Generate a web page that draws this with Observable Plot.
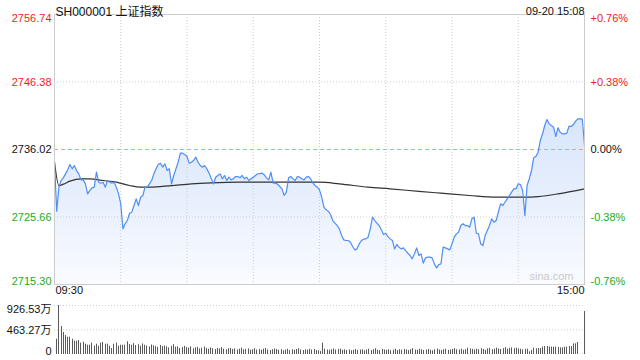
<!DOCTYPE html>
<html><head><meta charset="utf-8">
<script src="https://cdn.jsdelivr.net/npm/d3@7"></script>
<script src="https://cdn.jsdelivr.net/npm/@observablehq/plot@0.6"></script>
<style>
body{margin:0;background:#fff;}
#wrap{position:relative;width:640px;height:360px;overflow:hidden;}
#main{position:absolute;left:0;top:0;}
#vol{position:absolute;left:0;top:296px;}
</style></head><body>
<div id="wrap"><div id="main"></div><div id="vol"></div></div>
<script>
const title = "SH000001 上证指数";
const stamp = "09-20 15:08";
const watermark = "sina.com";
const timeLabels = ["09:30", "15:00"];
const prevClose = 2736.02;
const priceTicks = [2756.74, 2746.38, 2736.02, 2725.66, 2715.30];
const pctLabels = ["+0.76%", "+0.38%", "0.00%", "-0.38%", "-0.76%"];
const gridMinutes = [30, 60, 90, 120, 150, 180, 210];
const volTicks = [926.53, 463.27, 0];
const volLabels = ["926.53万", "463.27万", "0"];

// price per trading minute (0 = 09:30, 240 = 15:00)
const prices = [
2734.07,2726.55,2730.24,2731.26,2731.67,2732.28,2732.90,2733.72,2733.05,2733.56,
2732.79,2732.28,2731.36,2731.36,2730.75,2729.21,2729.72,2730.13,2730.24,2732.54,
2731.00,2730.85,2731.00,2730.24,2731.26,2731.00,2730.85,2731.00,2730.24,2729.21,
2727.68,2723.84,2724.61,2725.12,2726.24,2726.40,2727.42,2728.45,2727.42,2728.70,
2728.96,2730.24,2730.24,2730.75,2731.26,2732.28,2733.05,2733.72,2733.92,2733.31,
2733.82,2732.79,2733.05,2730.75,2732.03,2733.05,2734.07,2735.46,2735.46,2735.25,
2734.94,2733.92,2734.07,2734.33,2734.84,2734.07,2733.56,2733.31,2733.56,2733.05,
2732.39,2731.52,2730.75,2731.77,2732.03,2732.28,2731.52,2732.03,2731.26,2731.77,
2731.36,2731.52,2731.87,2731.87,2731.67,2732.03,2731.52,2731.77,2731.26,2731.52,
2731.77,2732.03,2732.28,2732.33,2732.39,2732.13,2731.67,2731.36,2732.54,2730.85,
2730.85,2730.70,2730.34,2729.98,2728.96,2729.47,2731.67,2731.87,2731.52,2731.26,
2731.87,2731.77,2731.52,2731.36,2731.77,2731.87,2731.52,2730.85,2730.49,2730.24,
2729.83,2728.70,2727.17,2726.76,2726.55,2726.04,2725.12,2724.71,2724.35,2723.84,
2722.82,2722.15,2722.05,2722.05,2721.79,2721.13,2720.62,2720.77,2721.54,2722.05,
2722.25,2722.30,2722.56,2723.84,2725.63,2725.12,2724.71,2724.35,2723.69,2722.97,
2723.17,2722.66,2722.30,2722.05,2720.77,2721.44,2721.03,2720.77,2720.92,2720.51,
2720.10,2719.75,2719.24,2720.00,2720.92,2719.75,2720.00,2718.57,2719.39,2719.49,
2719.49,2719.39,2718.47,2717.85,2718.36,2718.47,2721.03,2720.92,2720.77,2720.62,
2721.54,2722.56,2723.07,2723.33,2724.35,2724.61,2724.35,2724.35,2724.10,2725.38,
2725.63,2723.17,2723.07,2721.54,2721.28,2722.82,2723.58,2724.35,2725.38,2724.86,
2725.12,2726.40,2727.68,2727.42,2727.93,2728.45,2728.96,2729.47,2729.98,2729.98,
2730.75,2730.65,2729.72,2725.89,2730.49,2731.52,2732.79,2734.74,2734.94,2735.61,
2737.40,2738.42,2739.70,2740.62,2739.96,2739.70,2739.45,2738.01,2739.34,2738.68,
2738.42,2738.42,2738.53,2739.60,2739.55,2739.86,2740.37,2740.73,2740.73,2740.67,
2736.63];

// average price line, read at these minutes
const avgMinutes = [0,2,4,7,12,16,22,28,34,39,43,53,62,71,84,100,120,129,142,152,165,175,188,200,213,219,228,240];
const avgPrices = [2734.07,2730.49,2730.70,2731.16,2731.52,2731.52,2731.26,2731.00,2730.49,2730.24,2730.24,2730.49,2730.75,2730.90,2731.00,2731.00,2731.00,2730.75,2730.24,2729.98,2729.60,2729.32,2728.96,2728.70,2728.70,2728.80,2729.21,2729.98];

// volume per minute (万)
const volumes = [
289,926.53,529,416,359,327,327,289,251,251,
265,214,232,195,176,176,214,157,195,157,
214,227,195,195,157,113,195,214,157,176,
176,176,240,190,175,205,170,185,155,200,
175,160,145,180,165,150,135,170,150,160,
145,125,155,185,140,145,115,130,155,135,
120,145,110,125,135,105,120,140,115,100,
125,110,95,115,105,130,100,90,110,115,
95,105,85,100,120,90,95,105,80,90,
110,85,95,80,100,115,85,75,90,105,
95,80,90,70,85,100,75,90,80,95,
110,85,75,90,80,100,85,95,75,70,
55,214,100,85,80,90,105,85,95,100,
80,90,75,85,70,80,95,75,85,90,
70,85,100,75,90,110,80,75,95,85,
80,90,70,85,100,75,90,80,95,85,
75,90,110,85,80,100,90,75,85,95,
80,70,90,105,85,75,90,100,80,85,
95,110,90,85,100,80,90,120,105,95,
85,100,90,110,95,80,105,115,90,100,
120,105,95,110,130,100,115,125,110,120,105,
100,88,100,100,50,75,120,107,113,113,
139,151,151,139,139,139,139,132,126,126,
139,139,151,151,201,201,227,3,3,813];

const FONT = "'Liberation Sans', Arial, 'Noto Sans CJK SC', sans-serif";
const RED = "#f21d1d", GREEN = "#1fa81f", BLACK = "#111";
const tone = v => v > prevClose ? RED : v < prevClose ? GREEN : BLACK;

const series = prices.map((p, m) => ({m, p}));
const avg = avgMinutes.map((m, i) => ({m, p: avgPrices[i]}));
const ticks = priceTicks.map((v, i) => ({v, i, pct: pctLabels[i], c: tone(v)}));
const anchorOf = i => i === 0 ? "top" : i === ticks.length - 1 ? "bottom" : "middle";

const tickText = (i) => [
  Plot.text([ticks[i]], {y: "v", text: d => d.v.toFixed(2), fill: "c", frameAnchor: "left", dx: -3, textAnchor: "end", lineAnchor: anchorOf(i)}),
  Plot.text([ticks[i]], {y: "v", text: "pct", fill: "c", frameAnchor: "right", dx: 6, textAnchor: "start", lineAnchor: anchorOf(i)})
];

const main = Plot.plot({
  width: 640, height: 296,
  marginTop: 14, marginBottom: 12, marginLeft: 54, marginRight: 56,
  x: {domain: [0, 240], axis: null},
  y: {domain: [priceTicks[4], priceTicks[0]], axis: null},
  color: {type: "identity"},
  style: {fontFamily: FONT, fontSize: "11px", background: "transparent", color: "#111"},
  marks: [
    Plot.areaY(series, {x: "m", y1: priceTicks[4], y2: "p", fill: "url(#areaGrad)"}),
    Plot.ruleX(gridMinutes, {stroke: "#cdcdcd", strokeDasharray: "1,2"}),
    Plot.ruleY([priceTicks[1], priceTicks[3]], {stroke: "#cdcdcd", strokeDasharray: "1,2"}),
    Plot.ruleY([prevClose], {stroke: "#f2a36e", strokeDasharray: "4,3"}),
    Plot.line(avg, {x: "m", y: "p", stroke: "#333", strokeWidth: 1.2, curve: "monotone-x"}),
    Plot.line(series, {x: "m", y: "p", stroke: "#4f8ef5", strokeWidth: 1.2}),
    Plot.frame({stroke: "#cccccc"}),
    ...ticks.flatMap((d, i) => tickText(i)),
    Plot.text([title], {frameAnchor: "top-left", dx: 1, dy: -7, textAnchor: "start", fontSize: 12, fill: "#111"}),
    Plot.text([stamp], {frameAnchor: "top-right", dy: -7, textAnchor: "end", fill: "#111"}),
    Plot.text([timeLabels[0]], {frameAnchor: "bottom-left", dx: 1, dy: 9, textAnchor: "start", fill: "#111"}),
    Plot.text([timeLabels[1]], {frameAnchor: "bottom-right", dy: 9, textAnchor: "end", fill: "#111"}),
    Plot.text([watermark], {frameAnchor: "bottom-right", dx: -11, dy: -5, textAnchor: "end", fill: "#c9c9c9", fontSize: 11})
  ]
});

const NS = "http://www.w3.org/2000/svg";
const defs = document.createElementNS(NS, "defs");
const lg = document.createElementNS(NS, "linearGradient");
lg.setAttribute("id", "areaGrad");
lg.setAttribute("x1", "0"); lg.setAttribute("y1", "0");
lg.setAttribute("x2", "0"); lg.setAttribute("y2", "1");
[["0", "#d8e5fb"], ["1", "#f9fbff"]].forEach(([o, c]) => {
  const s = document.createElementNS(NS, "stop");
  s.setAttribute("offset", o); s.setAttribute("stop-color", c);
  lg.appendChild(s);
});
defs.appendChild(lg);
main.insertBefore(defs, main.firstChild);
document.getElementById("main").appendChild(main);

const volData = volumes.map((v, m) => ({m, v}));
const vol = Plot.plot({
  width: 640, height: 60,
  marginTop: 9, marginBottom: 2, marginLeft: 54, marginRight: 56,
  x: {domain: [-1, 240], axis: null, round: true},
  y: {domain: [0, volTicks[0]], axis: null},
  style: {fontFamily: FONT, fontSize: "11px", background: "transparent", color: "#111"},
  marks: [
    Plot.ruleY([volTicks[0], volTicks[1]], {stroke: "#cdcdcd", strokeDasharray: "1,2"}),
    Plot.ruleX(volData, {x: "m", y: "v", stroke: "#5a5a5a", strokeWidth: 1}),
    Plot.text([0], {y: volTicks[0], text: [volLabels[0]], frameAnchor: "left", dx: -3, textAnchor: "end", lineAnchor: "top", fill: "#111"}),
    Plot.text([1], {y: volTicks[1], text: [volLabels[1]], frameAnchor: "left", dx: -3, textAnchor: "end", lineAnchor: "middle", fill: "#111"}),
    Plot.text([2], {y: volTicks[2], text: [volLabels[2]], frameAnchor: "left", dx: -3, textAnchor: "end", lineAnchor: "bottom", fill: "#111"})
  ]
});
document.getElementById("vol").appendChild(vol);
</script>
</body></html>
